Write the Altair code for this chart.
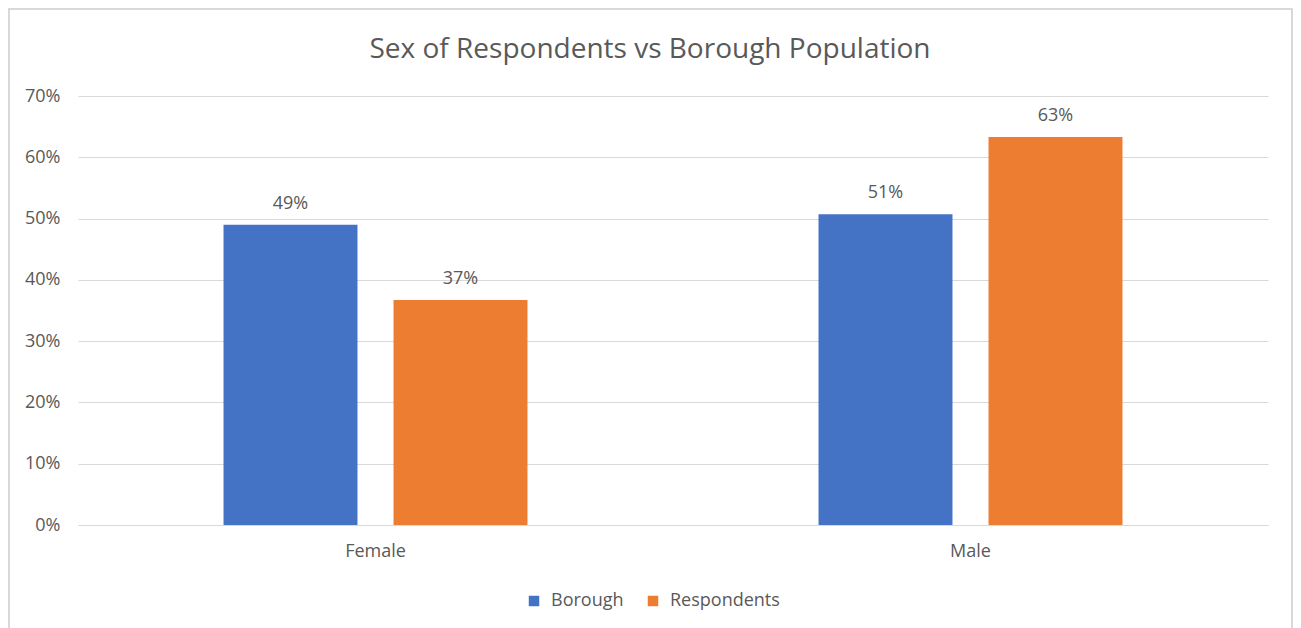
import altair as alt
import pandas as pd

categories = ["Female", "Male"]
series = ["Borough", "Respondents"]
borough_values = [0.49, 0.507]
respondent_values = [0.367, 0.633]
title_text = "Sex of Respondents vs Borough Population"

rows = []
for i, c in enumerate(categories):
    rows.append({"sex": c, "series": "Borough", "value": borough_values[i]})
    rows.append({"sex": c, "series": "Respondents", "value": respondent_values[i]})
df = pd.DataFrame(rows)

FONT = "Open Sans"
GREY = "#595959"
GRID = "#d9d9d9"
FS = 18

x_enc = alt.X("sex:N", sort=categories,
              scale=alt.Scale(paddingInner=0, paddingOuter=0),
              axis=alt.Axis(title=None, labelAngle=0, ticks=False, domain=True,
                            domainColor=GRID, labelPadding=17, labelFontSize=FS,
                            labelColor=GREY, labelFont=FONT))
xo_enc = alt.XOffset("series:N", sort=series,
                     scale=alt.Scale(paddingInner=0.212, paddingOuter=0.856))
y_enc = alt.Y("value:Q", scale=alt.Scale(domain=[0, 0.7], nice=False),
              axis=alt.Axis(title=None, format=".0%", values=[0, .1, .2, .3, .4, .5, .6, .7],
                            grid=True, gridColor=GRID, domain=False, ticks=False,
                            labelPadding=18, labelFontSize=FS, labelColor=GREY, labelFont=FONT))

bars = alt.Chart(df).mark_bar().encode(
    x=x_enc, xOffset=xo_enc, y=y_enc,
    color=alt.Color("series:N", sort=series,
                    scale=alt.Scale(domain=series, range=["#4472c4", "#ed7d31"]),
                    legend=alt.Legend(title=None, orient="none", legendX=447, legendY=496,
                                      direction="horizontal", symbolType="square",
                                      symbolSize=110, labelFontSize=FS, labelColor=GREY,
                                      labelFont=FONT, columnPadding=20, labelOffset=8,
                                      symbolStrokeWidth=0))
)

labels = alt.Chart(df).mark_text(fontSize=FS, color=GREY, font=FONT, baseline="alphabetic", dy=-16).encode(
    x=alt.X("sex:N", sort=categories), xOffset=alt.XOffset("series:N", sort=series),
    y="value:Q", text=alt.Text("value:Q", format=".0%")
)

border = alt.Chart(pd.DataFrame({"a": [0]})).mark_rect(
    fill=None, stroke=GRID, strokeWidth=2, clip=False
).encode(x=alt.value(-69), x2=alt.value(1214), y=alt.value(-87), y2=alt.value(700))

title = alt.Chart(pd.DataFrame({"t": [title_text]})).mark_text(
    fontSize=28, font=FONT, color=GREY, baseline="alphabetic", align="center"
).encode(x=alt.value(572), y=alt.value(-38), text="t:N")

chart = alt.layer(border, bars, labels, title).properties(
    width=1190, height=429,
    padding={"left": 70, "top": 88, "right": 25, "bottom": 103},
    autosize=alt.AutoSizeParams(type="none"),
    background="white",
).configure_view(strokeWidth=0, stroke="transparent")

chart.save("out.html", embed_options={"renderer": "svg", "actions": False})
